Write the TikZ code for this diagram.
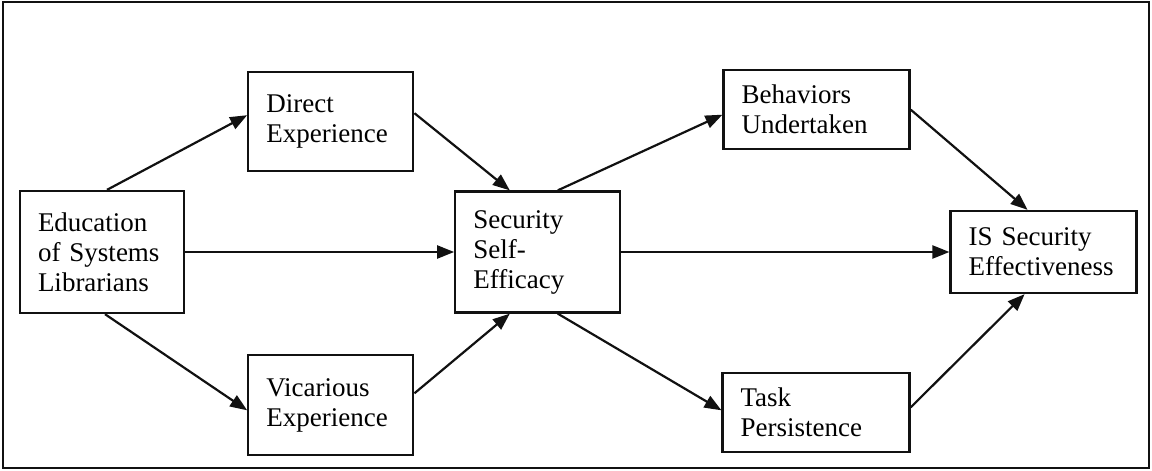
\documentclass[tikz,border=0pt]{standalone}
\usepackage{fontspec}
\setmainfont{Liberation Serif}[WordSpace=0.75]
\usepackage{tikz}
\usetikzlibrary{arrows.meta, positioning}
\definecolor{ink}{HTML}{111111}
\tikzset{
  factor/.style={
    rectangle, draw=ink, line width=2.3pt,
    inner xsep=18pt, inner ysep=0pt,
    align=left, fill=white,
    font=\fontsize{27}{30}\selectfont,
  },
  frame/.style={draw=ink, line width=2.3pt},
  arrow/.style={-{Triangle[length=17pt, width=13pt]}, line width=2.2pt, color=ink},
}
\begin{document}
\begin{tikzpicture}[x=1pt, y=-1pt]

  \useasboundingbox (0,0) rectangle (1152,471);
  \draw[frame] (3,2) rectangle (1149,468);

  \node[factor, text width=128pt, minimum height=122pt] (edu) at (102,252) {Education\\of Systems\\Librarians};
  \node[factor, text width=129pt, minimum height=99pt, above right=18pt and 62pt of edu] (direct) {Direct\\Experience};
  \node[factor, text width=129pt, minimum height=100pt, below right=40pt and 62pt of edu] (vicar) {Vicarious\\Experience};
  \node[factor, text width=129pt, minimum height=121pt, right=269pt of edu] (sse) {Security\\Self-\\Efficacy};
  \node[factor, text width=150pt, minimum height=79pt, above right=40pt and 101pt of sse] (behav) {Behaviors\\Undertaken};
  \node[factor, text width=151pt, minimum height=79pt, below right=58pt and 100pt of sse] (task) {Task\\Persistence};
  \node[factor, text width=150pt, minimum height=82pt, right=328pt of sse] (iss) {IS Security\\Effectiveness};

  \draw[arrow] ([xshift=5pt]edu.north) -- ([yshift=6pt]direct.west);
  \draw[arrow] (edu) -- (sse);
  \draw[arrow] ([xshift=3pt]edu.south) -- ([yshift=-5pt]vicar.west);
  \draw[arrow] ([yshift=8pt]direct.east) -- ([xshift=-28pt]sse.north);
  \draw[arrow] ([yshift=12pt]vicar.east) -- ([xshift=-28pt]sse.south);
  \draw[arrow] ([xshift=20pt]sse.north) -- ([yshift=-5pt]behav.west);
  \draw[arrow] (sse) -- (iss);
  \draw[arrow] ([xshift=20pt]sse.south) -- ([yshift=2pt]task.west);
  \draw[arrow] (behav.east) -- ([xshift=-16pt]iss.north);
  \draw[arrow] ([yshift=5pt]task.east) -- ([xshift=-19pt]iss.south);

\end{tikzpicture}
\end{document}
